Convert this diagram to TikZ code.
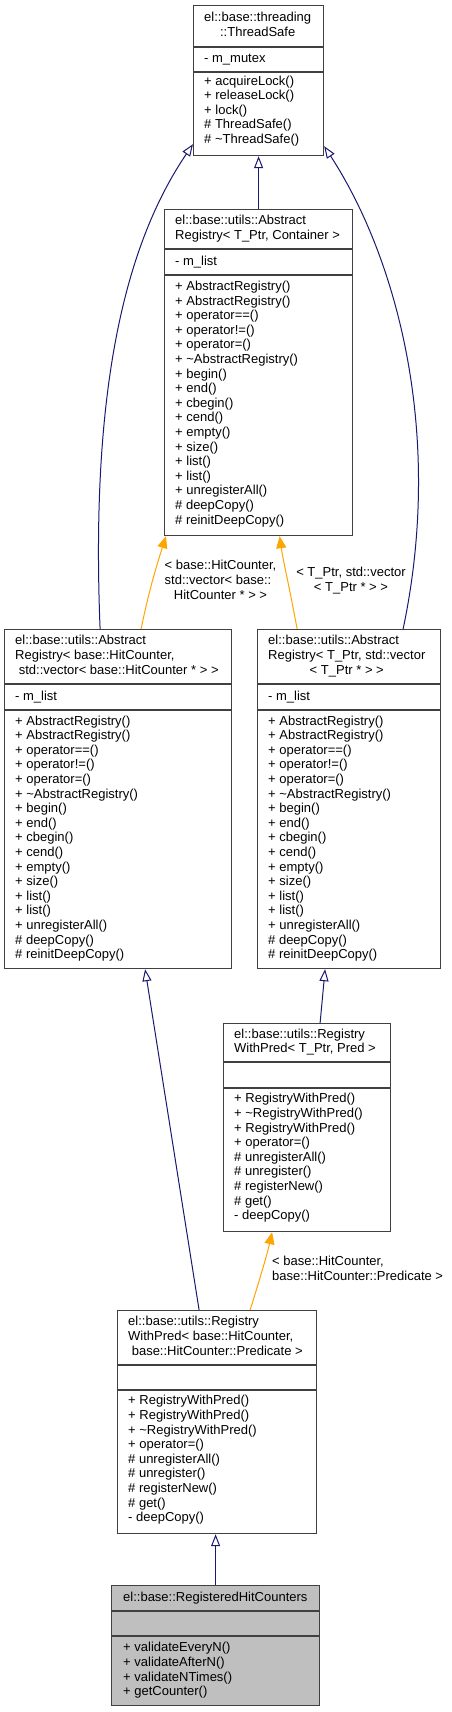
\documentclass[tikz,border=0pt]{standalone}
\usepackage{fontspec}
\setmainfont{Liberation Sans}
\usetikzlibrary{arrows.meta}

\definecolor{azul}{HTML}{191970}
\definecolor{naranja}{HTML}{FFA500}
\definecolor{borde}{HTML}{404040}
\definecolor{gris}{HTML}{BFBFBF}

\begin{document}
\begin{tikzpicture}[x=1pt, y=-1pt]
  \tikzset{
    caja/.style={draw=borde, fill=white, line width=1.2pt, anchor=north west, inner sep=0pt},
    separador/.style={draw=borde, line width=1.2pt},
    texto/.style={anchor=west, inner sep=0pt, align=left, font=\fontsize{13}{14.6}\selectfont},
    etiqueta/.style={inner sep=0pt, font=\fontsize{13}{14.6}\selectfont},
    herencia/.style={draw=azul, line width=1pt, -{Triangle[open, length=12pt, width=9pt, fill=white]}},
    plantilla/.style={draw=naranja, line width=1pt, -{Triangle[length=12pt, width=10pt]}}
  }
  \useasboundingbox (0,0) rectangle (451,1712);

  % Clase base: ThreadSafe
  \node[caja, minimum width=130pt, minimum height=150pt] (ts) at (193,5) {};
  \draw[separador] (193,47) -- (323,47);
  \draw[separador] (193,72) -- (323,72);
  \node[texto] (ts_titulo) at (204,26) {\begin{tabular}{@{}l@{}}el::base::threading\\\multicolumn{1}{@{}c@{}}{::ThreadSafe}\end{tabular}};
  \node[texto] (ts_atrib) at (204,59.5) {- m\_mutex};
  \node[texto] (ts_metodos) at (204,111) {+ acquireLock()\\+ releaseLock()\\+ lock()\\\# ThreadSafe()\\\# \textasciitilde{}ThreadSafe()};

  % AbstractRegistry< T_Ptr, Container >
  \node[caja, minimum width=188pt, minimum height=326pt] (arc) at (164,209) {};
  \draw[separador] (164,249) -- (352,249);
  \draw[separador] (164,275) -- (352,275);
  \node[texto] (arc_titulo) at (175,229) {\begin{tabular}{@{}l@{}}el::base::utils::Abstract\\\multicolumn{1}{@{}c@{}}{Registry< T\_Ptr, Container >}\end{tabular}};
  \node[texto] (arc_atrib) at (175,262) {- m\_list};
  \node[texto] (arc_metodos) at (175,404) {+ AbstractRegistry()\\+ AbstractRegistry()\\+ operator==()\\+ operator!=()\\+ operator=()\\+ \textasciitilde{}AbstractRegistry()\\+ begin()\\+ end()\\+ cbegin()\\+ cend()\\+ empty()\\+ size()\\+ list()\\+ list()\\+ unregisterAll()\\\# deepCopy()\\\# reinitDeepCopy()};

  % AbstractRegistry< base::HitCounter, ... >
  \node[caja, minimum width=227pt, minimum height=339pt] (lar) at (4,629) {};
  \draw[separador] (4,684) -- (231,684);
  \draw[separador] (4,710) -- (231,710);
  \node[texto] (lar_titulo) at (15,656.5) {\begin{tabular}{@{}l@{}}el::base::utils::Abstract\\Registry< base::HitCounter,\\\multicolumn{1}{@{}c@{}}{\ std::vector< base::HitCounter * > >}\end{tabular}};
  \node[texto] (lar_atrib) at (15,697) {- m\_list};
  \node[texto] (lar_metodos) at (15,838.5) {+ AbstractRegistry()\\+ AbstractRegistry()\\+ operator==()\\+ operator!=()\\+ operator=()\\+ \textasciitilde{}AbstractRegistry()\\+ begin()\\+ end()\\+ cbegin()\\+ cend()\\+ empty()\\+ size()\\+ list()\\+ list()\\+ unregisterAll()\\\# deepCopy()\\\# reinitDeepCopy()};

  % AbstractRegistry< T_Ptr, std::vector< T_Ptr * > >
  \node[caja, minimum width=183pt, minimum height=339pt] (rar) at (257,629) {};
  \draw[separador] (257,684) -- (440,684);
  \draw[separador] (257,710) -- (440,710);
  \node[texto] (rar_titulo) at (268,656.5) {\begin{tabular}{@{}l@{}}el::base::utils::Abstract\\Registry< T\_Ptr, std::vector\\\multicolumn{1}{@{}c@{}}{< T\_Ptr * > >}\end{tabular}};
  \node[texto] (rar_atrib) at (268,697) {- m\_list};
  \node[texto] (rar_metodos) at (268,838.5) {+ AbstractRegistry()\\+ AbstractRegistry()\\+ operator==()\\+ operator!=()\\+ operator=()\\+ \textasciitilde{}AbstractRegistry()\\+ begin()\\+ end()\\+ cbegin()\\+ cend()\\+ empty()\\+ size()\\+ list()\\+ list()\\+ unregisterAll()\\\# deepCopy()\\\# reinitDeepCopy()};

  % RegistryWithPred< T_Ptr, Pred >
  \node[caja, minimum width=167pt, minimum height=208pt] (rwp) at (223,1023) {};
  \draw[separador] (223,1062) -- (390,1062);
  \draw[separador] (223,1088) -- (390,1088);
  \node[texto] (rwp_titulo) at (234,1042.5) {\begin{tabular}{@{}l@{}}el::base::utils::Registry\\\multicolumn{1}{@{}c@{}}{WithPred< T\_Ptr, Pred >}\end{tabular}};
  \node[texto] (rwp_metodos) at (234,1158) {+ RegistryWithPred()\\+ \textasciitilde{}RegistryWithPred()\\+ RegistryWithPred()\\+ operator=()\\\# unregisterAll()\\\# unregister()\\\# registerNew()\\\# get()\\- deepCopy()};

  % RegistryWithPred< base::HitCounter, ... >
  \node[caja, minimum width=199pt, minimum height=223pt] (rwh) at (117,1310) {};
  \draw[separador] (117,1365) -- (316,1365);
  \draw[separador] (117,1390) -- (316,1390);
  \node[texto] (rwh_titulo) at (128,1337.5) {\begin{tabular}{@{}l@{}}el::base::utils::Registry\\WithPred< base::HitCounter,\\\multicolumn{1}{@{}c@{}}{\ base::HitCounter::Predicate >}\end{tabular}};
  \node[texto] (rwh_metodos) at (128,1460) {+ RegistryWithPred()\\+ RegistryWithPred()\\+ \textasciitilde{}RegistryWithPred()\\+ operator=()\\\# unregisterAll()\\\# unregister()\\\# registerNew()\\\# get()\\- deepCopy()};

  % Clase final (gris)
  \node[caja, fill=gris, minimum width=208pt, minimum height=120pt] (rhc) at (111,1585) {};
  \draw[separador] (111,1611) -- (319,1611);
  \draw[separador] (111,1636) -- (319,1636);
  \node[texto] (rhc_titulo) at (123,1598) {el::base::RegisteredHitCounters};
  \node[texto] (rhc_metodos) at (123,1670.5) {+ validateEveryN()\\+ validateAfterN()\\+ validateNTimes()\\+ getCounter()};

  % Herencia
  \draw[herencia] (ts.south |- arc.north) -- (ts.south);
  \draw[herencia] ([xshift=-18pt]lar.north) .. controls (90,380) and (128,240) .. ([yshift=12pt]ts.south west);
  \draw[herencia] ([xshift=54pt]rar.north) .. controls (445,430) and (395,255) .. ([yshift=10pt]ts.south east);
  \draw[herencia] ([xshift=-18pt]rwh.north) -- ([xshift=27pt]lar.south);
  \draw[herencia] ([xshift=13pt]rwp.north) -- ([xshift=-24pt]rar.south);
  \draw[herencia] (rhc.north) -- (rhc.north |- rwh.south);

  % Instancias de plantilla
  \draw[plantilla] ([xshift=23pt]lar.north) .. controls (150,585) and (160,555) .. ([xshift=2pt]arc.south west);
  \draw[plantilla] ([xshift=-52pt]rar.north) .. controls (290,590) and (283,560) .. ([xshift=21pt]arc.south);
  \draw[plantilla] ([xshift=33pt]rwh.north) .. controls (258,1285) and (267,1255) .. ([xshift=-35pt]rwp.south);

  % Etiquetas de las plantillas
  \node[etiqueta] (et_hc) at (220.5,581.5) {\begin{tabular}{@{}l@{}}< base::HitCounter,\\std::vector< base::\\\multicolumn{1}{@{}c@{}}{HitCounter * > >}\end{tabular}};
  \node[etiqueta] (et_tptr) at (351,581.3) {\begin{tabular}{@{}l@{}}< T\_Ptr, std::vector\\\multicolumn{1}{@{}c@{}}{< T\_Ptr * > >}\end{tabular}};
  \node[etiqueta, anchor=west] (et_pred) at (272,1270) {\begin{tabular}{@{}l@{}}< base::HitCounter,\\\multicolumn{1}{@{}c@{}}{base::HitCounter::Predicate >}\end{tabular}};
\end{tikzpicture}
\end{document}
